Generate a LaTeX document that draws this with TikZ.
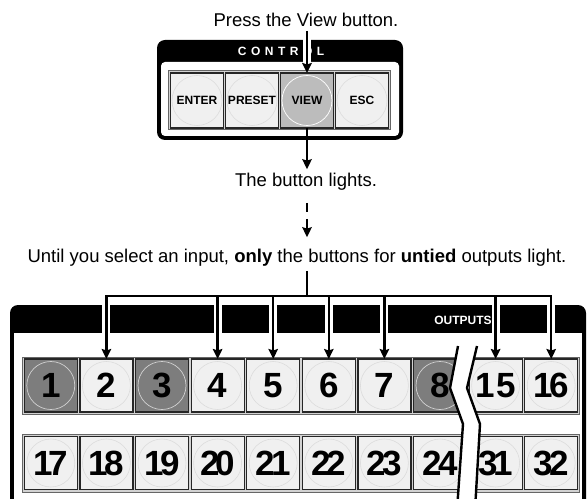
\documentclass[tikz,border=0pt]{standalone}
\usepackage{fontspec}
\setmainfont{Liberation Sans}
\usepackage{tikz}
\usetikzlibrary{arrows.meta,positioning}
\usepackage{xcolor}
\definecolor{keyface}{HTML}{F0F0F0}
\definecolor{keyring}{HTML}{DCDCDC}
\definecolor{litface}{HTML}{7D7D7D}
\definecolor{viewface}{HTML}{BCBCBC}
\definecolor{rowfill}{HTML}{D2D2D2}
\newcommand{\dig}[2]{#1\kern-4bp#2}

\begin{document}
\begin{tikzpicture}[x=1bp, y=-1bp, node distance=2bp and 2bp, every node/.style={font=\fontsize{18.5bp}{22bp}\selectfont}, note/.style={inner sep=4bp}, hdr/.style={text=white,inner sep=0pt,font=\fontsize{12bp}{14bp}\selectfont\bfseries}, rowbox/.style={fill=rowfill,draw=black!60,line width=1bp}, ckey/.style={draw=black!85,line width=1.2bp,fill=keyface,minimum width=53bp,minimum height=55bp,inner sep=0pt,outer sep=0pt,font=\fontsize{12bp}{14bp}\selectfont\bfseries,path picture={\draw[keyring,line width=0.6bp] (path picture bounding box.center) circle (25bp);}}, viewkey/.style={fill=viewface,path picture={\draw[white,line width=0.7bp] (path picture bounding box.center) circle (25bp);}}, okey/.style={ckey,minimum height=53bp,font=\fontsize{35bp}{35bp}\selectfont\bfseries,path picture={\draw[keyring,line width=0.6bp] (path picture bounding box.center) circle (24bp);}}, lit/.style={fill=litface,path picture={\draw[white!82!black,line width=0.7bp] (path picture bounding box.center) circle (24bp);}}, arr/.style={-{Stealth[length=10bp,width=9.5bp,inset=1.5bp]},line width=2.4bp}, wire/.style={line width=2.4bp}, halo/.style={white,line width=8bp,shorten >=10bp}]
\useasboundingbox (0,0) rectangle (587,499);
\clip (0,0) rectangle (587,499);

% captions
\node[note] (press) at (306,20) {Press the View button.};
\node[note] (lights) at (306,182) {The button lights.};
\node[note] (until) at (297,258) {Until you select an input, \textbf{only} the buttons for \textbf{untied} outputs light.};

% control panel
\fill[rounded corners=8bp] (157,40) rectangle (403,140);
\fill[white,rounded corners=4bp] (161,62) rectangle (399,136);
\node[hdr] (ctrlhdr) at (281,51) {C\hspace{4.5bp}O\hspace{4.5bp}N\hspace{4.5bp}T\hspace{4.5bp}R\hspace{4.5bp}O\hspace{4.5bp}L};
\filldraw[rowbox] (168.5,71) rectangle (390.5,130);
\node[ckey] (enter) at (197,100.5) {ENTER};
\node[ckey,right=of enter] (preset) {PRESET};
\node[ckey,viewkey,right=of preset] (view) {VIEW};
\node[ckey,right=of view] (esc) {ESC};

% outputs panel
\fill[rounded corners=8bp] (10,305) rectangle (586,530);
\fill[white] (14,333) rectangle (582,530);
\node[hdr] (outhdr) at (463,320) {OUTPUTS};
\filldraw[rowbox] (22.3,357) rectangle (579.7,414);
\filldraw[rowbox] (22.3,434) rectangle (579.7,492);
\node[okey,lit] (o1) at (50.8,385.5) {1};
\node[okey,right=2.6bp of o1] (o2) {2};
\node[okey,lit,right=2.6bp of o2] (o3) {3};
\node[okey,right=2.6bp of o3] (o4) {4};
\node[okey,right=2.6bp of o4] (o5) {5};
\node[okey,right=2.6bp of o5] (o6) {6};
\node[okey,right=2.6bp of o6] (o7) {7};
\node[okey,lit,right=2.6bp of o7] (o8) {8};
\node[okey,right=2.6bp of o8] (o15) {1\kern1bp5};
\node[okey,right=2.6bp of o15] (o16) {\dig{1}{6}};
\node[okey] (o17) at (50.8,463) {\dig{1}{7}};
\node[okey,right=2.6bp of o17] (o18) {\dig{1}{8}};
\node[okey,right=2.6bp of o18] (o19) {\dig{1}{9}};
\node[okey,right=2.6bp of o19] (o20) {\dig{2}{0}};
\node[okey,right=2.6bp of o20] (o21) {\dig{2}{1}};
\node[okey,right=2.6bp of o21] (o22) {\dig{2}{2}};
\node[okey,right=2.6bp of o22] (o23) {\dig{2}{3}};
\node[okey,right=2.6bp of o23] (o24) {\dig{2}{4}};
\node[okey,right=2.6bp of o24] (o31) {\dig{3}{1}};
\node[okey,right=2.6bp of o31] (o32) {\dig{3}{2}};

% break in the row
\fill[white] (458,346) -- (450,388) -- (463,424) -- (457,510) -- (475,510) -- (480,424) -- (467,388) -- (477,346) -- cycle;
\draw[wire] (458,346) -- (450,388) -- (463,424) -- (457,510);
\draw[wire] (477,346) -- (467,388) -- (480,424) -- (475,510);

% connectors
\coordinate (hub) at (307,296);
\draw[halo] (view.north |- press.south) -- (view.north);
\draw[arr] (view.north |- press.south) -- (view.north);
\draw[arr] (view.south) -- (view.south |- lights.north);
\draw[arr,dash pattern=on 9bp off 7bp on 40bp,shorten <=8bp,shorten >=8bp] (lights.south -| view) -- (until.north -| view);
\draw[wire] (until.south -| hub) -- (hub);
\draw[halo] (hub -| o2) -- (o2.north);
\draw[halo] (hub -| o4) -- (o4.north);
\draw[halo] (hub -| o5) -- (o5.north);
\draw[halo] (hub -| o6) -- (o6.north);
\draw[halo] (hub -| o7) -- (o7.north);
\draw[halo] (hub -| o15) -- (o15.north);
\draw[halo] (hub -| o16) -- (o16.north);
\draw[arr] (hub) -| (o2.north);
\draw[arr] (hub) -| (o4.north);
\draw[arr] (hub) -| (o5.north);
\draw[arr] (hub) -| (o6.north);
\draw[arr] (hub) -| (o7.north);
\draw[arr] (hub) -| (o15.north);
\draw[arr] (hub) -| (o16.north);
\end{tikzpicture}
\end{document}
